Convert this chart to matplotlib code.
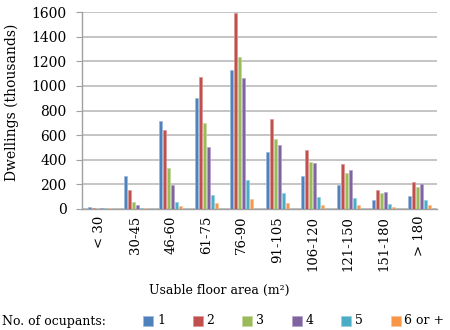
import matplotlib
matplotlib.use("Agg")
import matplotlib.pyplot as plt
import numpy as np
from matplotlib.patches import Rectangle

categories = ["< 30", "30-45", "46-60", "61-75", "76-90", "91-105", "106-120", "121-150", "151-180", "> 180"]
series_names = ["1", "2", "3", "4", "5", "6 or +"]
occ1 = [19, 268, 716, 903, 1132, 459, 268, 192, 70, 103]
occ2 = [11, 157, 641, 1076, 1592, 732, 478, 368, 151, 219]
occ3 = [3, 57, 332, 700, 1232, 568, 378, 295, 127, 176]
occ4 = [5, 32, 197, 503, 1068, 516, 373, 316, 141, 200]
occ5 = [5, 8, 54, 116, 235, 127, 100, 86, 43, 73]
occ6 = [5, 8, 22, 49, 78, 46, 32, 30, 16, 32]
series = [occ1, occ2, occ3, occ4, occ5, occ6]
colors = ["#4F81BD", "#C0504D", "#9BBB59", "#8064A2", "#4BACC6", "#F79646"]
edges = ["#9DB8DB", "#DC9593", "#C5D8A0", "#B3A2C8", "#97D0DF", "#FAC39A"]

plt.rcParams['font.family'] = ['DejaVu Serif']
fig = plt.figure(figsize=(4.5, 3.3), dpi=100)
ax = fig.add_axes([82/450, 1-209/330, (437-82)/450, (209-12)/330])

x = np.arange(len(categories))
slot = 0.112
bw = 0.085
for i, (vals, c, e) in enumerate(zip(series, colors, edges)):
    ax.bar(x + (i - 2.5) * slot, vals, width=bw, color=c, edgecolor=e, linewidth=0.5, zorder=3)

ax.set_xlim(-0.5, len(categories) - 0.5)
ax.set_ylim(0, 1600)
ax.set_yticks(range(0, 1601, 200))
ax.tick_params(axis='y', labelsize=10, length=4, color='#A0A0A0', pad=7)
ax.set_xticks(x)
ax.set_xticklabels(categories, rotation=90, fontsize=9.5)
ax.tick_params(axis='x', length=0, pad=5)
ax.yaxis.grid(True, color='#C0C0C0', linewidth=1.3, zorder=0)
ax.set_axisbelow(True)
for s in ['top', 'right']:
    ax.spines[s].set_visible(False)
for s in ['left', 'bottom']:
    ax.spines[s].set_color('#A0A0A0')
    ax.spines[s].set_linewidth(1.0)

fig.text(12/450, 1-102/330, "Dwellings (thousands)", ha='center', va='center', rotation=90, fontsize=10)
fig.text(219/450, 1-290/330, "Usable floor area (m²)", ha='center', va='center', fontsize=9)

fig.text(2/450, 1-321/330, "No. of ocupants:", ha='left', va='center', fontsize=9)
for i, (name, c) in enumerate(zip(series_names, colors)):
    x0 = 143 + i * 49.5
    fig.patches.append(Rectangle((x0/450, 1-326/330), 10/450, 10/330, transform=fig.transFigure,
                                 facecolor=c, edgecolor=edges[i], linewidth=0.5))
    fig.text((x0 + 14)/450, 1-321/330, name, ha='left', va='center', fontsize=9)

fig.savefig("out.png", dpi=100)
